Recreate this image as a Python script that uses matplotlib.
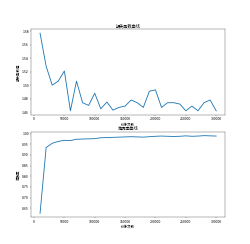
import numpy as np
import matplotlib
matplotlib.use('Agg')
import matplotlib.pyplot as plt

plt.rcParams['font.family'] = ['Noto Sans CJK SC', 'DejaVu Sans']
plt.rcParams['axes.unicode_minus'] = False

steps = [10000, 20000, 30000, 40000, 50000, 60000, 70000, 80000, 90000, 100000,
         110000, 120000, 130000, 140000, 150000, 160000, 170000, 180000, 190000, 200000,
         210000, 220000, 230000, 240000, 250000, 260000, 270000, 280000, 290000, 300000]

loss = [1.577, 1.528, 1.500, 1.506, 1.521, 1.462, 1.506, 1.474, 1.470, 1.488,
        1.465, 1.475, 1.463, 1.467, 1.469, 1.478, 1.474, 1.467, 1.491, 1.493,
        1.467, 1.474, 1.474, 1.472, 1.462, 1.469, 1.462, 1.474, 1.478, 1.462]

acc = [0.626, 0.935, 0.955, 0.964, 0.969, 0.968, 0.974, 0.975, 0.976, 0.977,
       0.981, 0.982, 0.983, 0.984, 0.985, 0.986, 0.985, 0.984, 0.986, 0.988,
       0.989, 0.988, 0.987, 0.988, 0.990, 0.988, 0.989, 0.991, 0.990, 0.989]

fig = plt.figure(figsize=(10, 9.76), dpi=25)

plt.subplot(2, 1, 1)
plt.plot(steps, loss, linewidth=2.5)
plt.title('损失函数曲线')
plt.xlabel('训练次数')
plt.ylabel('损失函数值')

plt.subplot(2, 1, 2)
plt.plot(steps, acc, linewidth=2.5)
plt.title('准确率曲线')
plt.xlabel('训练次数')
plt.ylabel('准确率')

plt.savefig('out.png', dpi=25)
